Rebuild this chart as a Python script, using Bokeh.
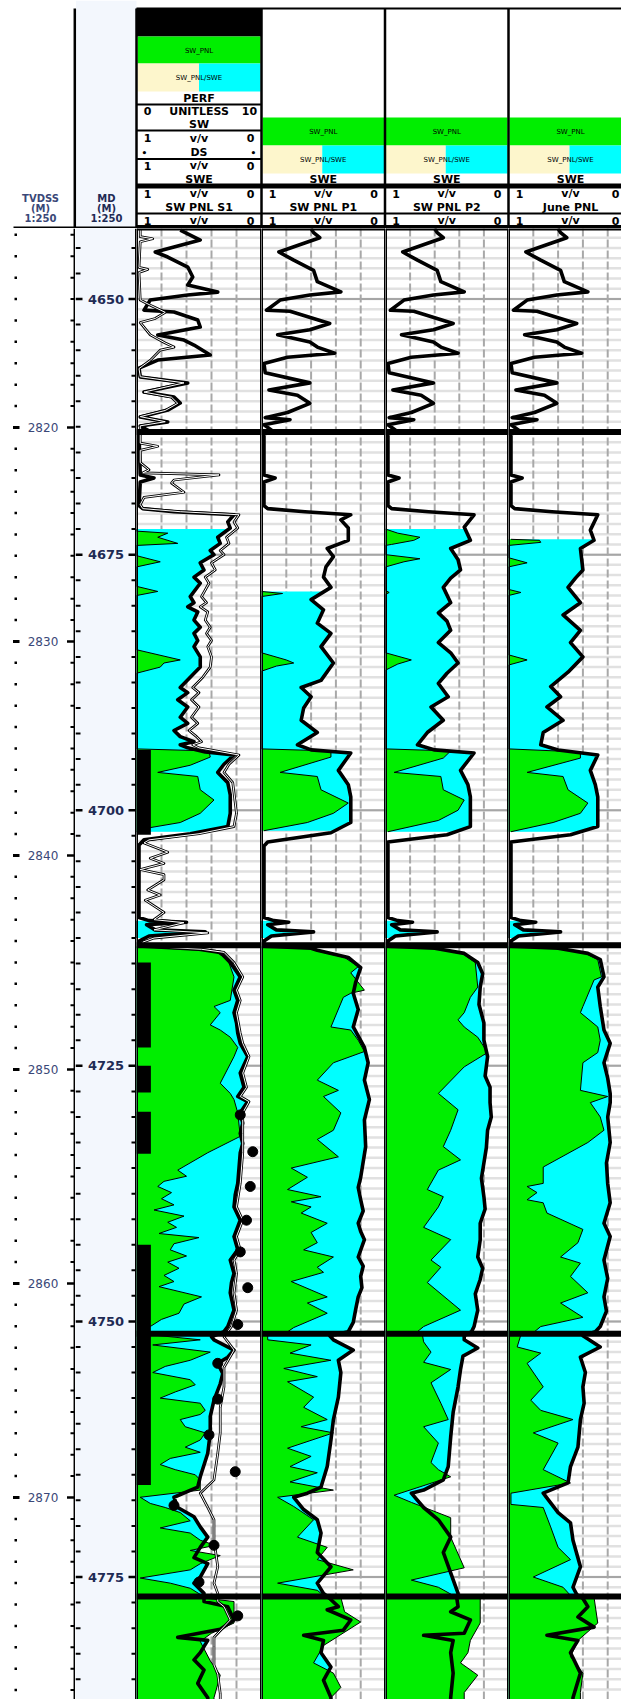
import numpy as np
from bokeh.plotting import figure
from bokeh.layouts import column, row
from bokeh.models import Range1d
from bokeh.embed import file_html
from bokeh.resources import INLINE
from bokeh.core.properties import value

# ------------------------------------------------------------------ data
MD_TOP, MD_BOT = 4643.1, 4786.98
zone_tops = [4663.0, 4713.2, 4751.2, 4776.9]
md_labels = [4650, 4675, 4700, 4725, 4750, 4775]
tvd_ref_md = [4662.56, 4767.22]
tvd_ref = [2820, 2870]

track_names = ["SW PNL S1", "SW PNL P1", "SW PNL P2", "June PNL"]

perf_top = [4694.1, 4714.9, 4725.0, 4729.5, 4742.5]
perf_base = [4702.4, 4723.2, 4727.6, 4733.6, 4766.0]
perf_val = 1.15

ds_md = [4729.8, 4733.4, 4736.8, 4740.1, 4743.2, 4746.7, 4750.3, 4754.1, 4757.6,
         4761.1, 4764.7, 4768.0, 4771.9, 4775.5, 4778.8]
ds_v = [0.17, 0.07, 0.09, 0.12, 0.17, 0.11, 0.19, 0.35, 0.35, 0.42, 0.21, 0.70,
        0.38, 0.50, 0.19]

# SW PNL S1 (track 1, thick)
t1_p = [
    (4643.25, 0.65), (4644.23, 0.49), (4645.40, 0.85), (4645.89, 0.75), (4646.87, 0.59),
    (4647.85, 0.55), (4648.63, 0.59), (4649.32, 0.35), (4649.61, 0.59), (4650.10, 0.89),
    (4651.08, 0.94), (4651.27, 0.70), (4652.05, 0.51), (4652.74, 0.49), (4653.52, 0.83),
    (4654.01, 0.62), (4654.50, 0.54), (4655.48, 0.41), (4655.97, 0.83), (4656.75, 0.98),
    (4657.63, 0.97), (4658.22, 0.59), (4659.10, 0.94), (4659.58, 0.70), (4660.17, 0.65),
    (4660.86, 0.75), (4661.54, 0.97), (4662.03, 0.75), (4662.42, 0.97), (4662.9, 0.90),
    (4663.2, 0.98), (4667.2, 0.97), (4667.5, 0.86), (4667.9, 0.97), (4670.2, 0.98),
    (4670.5, 0.95), (4670.8, 0.70), (4671.1, 0.22), (4671.8, 0.27), (4672.4, 0.25),
    (4673.3, 0.35), (4673.9, 0.33), (4674.6, 0.41), (4675.0, 0.38), (4675.8, 0.49),
    (4676.5, 0.46), (4677.2, 0.54), (4677.8, 0.49), (4679.1, 0.57), (4679.7, 0.54),
    (4680.1, 0.59), (4680.6, 0.51), (4681.4, 0.54), (4682.1, 0.49), (4682.7, 0.54),
    (4683.4, 0.51), (4684.0, 0.54), (4685.0, 0.49), (4686.0, 0.49), (4687.0, 0.57),
    (4688.0, 0.65), (4688.5, 0.59), (4689.2, 0.67), (4689.9, 0.59), (4690.9, 0.65),
    (4691.5, 0.59), (4692.2, 0.70), (4692.8, 0.65), (4693.3, 0.54), (4693.6, 0.65),
    (4693.9, 0.59), (4694.3, 0.45), (4694.6, 0.22), (4695.5, 0.30), (4696.3, 0.35),
    (4697.3, 0.27), (4698.5, 0.25), (4700.3, 0.25), (4701.6, 0.27), (4702.3, 0.57),
    (4702.9, 0.94), (4703.4, 0.98), (4710.5, 0.98), (4710.8, 0.90), (4710.95, 0.60),
    (4711.2, 0.92), (4711.7, 0.85), (4711.9, 0.45), (4712.3, 0.90), (4712.8, 0.98),
    (4713.3, 0.95), (4713.6, 0.50), (4713.9, 0.33), (4714.9, 0.25), (4716.3, 0.17),
    (4717.6, 0.22), (4718.6, 0.19), (4719.8, 0.22), (4720.8, 0.20), (4721.8, 0.19),
    (4722.8, 0.17), (4724.1, 0.11), (4725.7, 0.17), (4727.1, 0.14), (4728.0, 0.19),
    (4728.5, 0.11), (4729.6, 0.17), (4730.6, 0.15), (4731.6, 0.17), (4732.6, 0.15),
    (4733.5, 0.17), (4735.0, 0.18), (4736.5, 0.19), (4737.6, 0.21), (4738.8, 0.22),
    (4740.1, 0.17), (4741.7, 0.22), (4743.0, 0.19), (4744.0, 0.25), (4745.3, 0.22),
    (4746.2, 0.24), (4747.2, 0.25), (4748.9, 0.22), (4750.5, 0.27), (4751.0, 0.30),
    (4751.5, 0.40), (4751.8, 0.38), (4752.8, 0.22), (4753.5, 0.27), (4754.1, 0.35),
    (4755.1, 0.31), (4756.1, 0.33), (4757.7, 0.38), (4759.3, 0.41), (4760.9, 0.41),
    (4762.9, 0.43), (4765.2, 0.49), (4766.2, 0.51), (4767.2, 0.70), (4768.2, 0.67),
    (4769.1, 0.54), (4770.1, 0.49), (4771.1, 0.43), (4772.1, 0.49), (4773.1, 0.54),
    (4773.7, 0.43), (4775.0, 0.49), (4775.6, 0.54), (4776.6, 0.46), (4777.4, 0.46),
    (4777.9, 0.27), (4779.2, 0.22), (4780.1, 0.33), (4780.9, 0.67), (4781.2, 0.43),
    (4782.4, 0.49), (4783.1, 0.54), (4784.1, 0.46), (4785.4, 0.51), (4786.8, 0.43),
    (4787.0, 0.43),
]

# SW (track 1, thin hollow curve)
t1_sw = [
    (4643.2, 0.97), (4643.9, 0.97), (4644.1, 0.87), (4644.4, 0.97), (4646.9, 0.98),
    (4647.1, 0.91), (4647.4, 0.98), (4650.1, 0.97), (4650.6, 0.89), (4651.3, 0.77),
    (4651.9, 0.85), (4652.3, 0.97), (4653.5, 0.89), (4654.3, 0.77), (4654.7, 0.70),
    (4655.0, 0.81), (4656.0, 0.89), (4656.8, 0.98), (4657.6, 0.97), (4658.2, 0.62),
    (4659.1, 0.94), (4659.6, 0.72), (4660.2, 0.67), (4660.9, 0.77), (4661.5, 0.97),
    (4662.0, 0.77), (4662.4, 0.97), (4662.9, 0.97), (4664.1, 0.97), (4664.4, 0.83),
    (4664.8, 0.97), (4666.0, 0.97), (4666.7, 0.90), (4667.0, 0.95), (4667.2, 0.34),
    (4667.7, 0.70), (4668.0, 0.72), (4668.9, 0.62), (4669.4, 0.94), (4670.1, 0.97),
    (4670.5, 0.95), (4670.8, 0.65), (4671.1, 0.18), (4671.8, 0.22), (4672.4, 0.19),
    (4673.3, 0.28), (4673.9, 0.26), (4674.6, 0.33), (4675.0, 0.30), (4675.8, 0.40),
    (4676.5, 0.37), (4677.2, 0.45), (4677.8, 0.42), (4679.1, 0.48), (4679.7, 0.44),
    (4680.1, 0.49), (4680.6, 0.43), (4681.4, 0.45), (4682.1, 0.41), (4682.7, 0.44),
    (4683.4, 0.40), (4684.0, 0.43), (4685.0, 0.40), (4686.0, 0.41), (4687.0, 0.47),
    (4688.0, 0.55), (4688.5, 0.50), (4689.2, 0.56), (4689.9, 0.50), (4690.9, 0.56),
    (4691.5, 0.51), (4692.2, 0.58), (4692.8, 0.52), (4693.3, 0.48), (4693.6, 0.55),
    (4693.9, 0.50), (4694.6, 0.18), (4695.5, 0.26), (4696.3, 0.30), (4697.3, 0.23),
    (4700.3, 0.20), (4701.6, 0.22), (4702.3, 0.50), (4702.9, 0.90), (4703.2, 0.94),
    (4704.1, 0.75), (4704.7, 0.89), (4705.2, 0.78), (4705.8, 0.97), (4706.3, 0.78),
    (4706.8, 0.78), (4707.8, 0.91), (4708.3, 0.81), (4708.8, 0.93), (4710.0, 0.78),
    (4710.7, 0.86), (4711.0, 0.62), (4711.7, 0.86), (4712.0, 0.43), (4712.5, 0.86),
    (4712.9, 0.95), (4713.3, 0.93), (4713.6, 0.48), (4713.9, 0.30), (4714.9, 0.22),
    (4716.3, 0.15), (4717.6, 0.20), (4718.6, 0.17), (4719.8, 0.20), (4721.8, 0.17),
    (4722.8, 0.15), (4724.1, 0.10), (4725.7, 0.15), (4727.1, 0.12), (4728.0, 0.17),
    (4728.5, 0.10), (4729.6, 0.15), (4731.6, 0.15), (4733.5, 0.15), (4736.5, 0.17),
    (4738.8, 0.20), (4740.1, 0.15), (4741.7, 0.20), (4743.0, 0.17), (4744.0, 0.22),
    (4745.3, 0.20), (4747.2, 0.22), (4748.9, 0.20), (4750.5, 0.24), (4751.0, 0.27),
    (4751.5, 0.30), (4752.8, 0.22), (4754.5, 0.30), (4756.4, 0.30), (4758.4, 0.33),
    (4760.9, 0.33), (4762.9, 0.35), (4765.5, 0.38), (4766.8, 0.49), (4768.2, 0.43),
    (4769.4, 0.38), (4771.4, 0.38), (4774.0, 0.35), (4775.6, 0.38), (4776.6, 0.35),
    (4777.4, 0.35), (4777.9, 0.30), (4779.2, 0.25), (4780.9, 0.38), (4781.8, 0.38),
    (4783.6, 0.38), (4784.5, 0.35), (4786.4, 0.33), (4787.0, 0.33),
]

# SWE (track 1), None separates intervals
t1_swe = [
    (4672.5, 1.0), (4672.7, 1.0), (4672.9, 0.75), (4673.3, 0.83), (4673.9, 0.67),
    (4674.1, 1.0), (4675.1, 1.0), (4675.7, 0.81), (4676.2, 1.0), (4678.1, 1.0),
    (4678.6, 0.83), (4679.0, 1.0), (4684.3, 1.0), (4685.3, 0.65), (4685.6, 0.78),
    (4686.0, 0.81), (4686.6, 1.0), (4694.0, 1.0), (4694.2, 0.42), (4694.8, 0.41),
    (4695.6, 0.57), (4696.3, 0.83), (4696.7, 0.51), (4698.0, 0.49), (4699.0, 0.38),
    (4700.3, 0.49), (4701.2, 0.65), (4701.7, 0.89), (4702.1, 1.0),
    None,
    (4710.8, 1.0), (4712.5, 1.0),
    None,
    (4713.3, 0.98), (4713.5, 0.60), (4713.9, 0.36), (4714.6, 0.27), (4716.3, 0.22),
    (4718.6, 0.25), (4719.2, 0.38), (4719.8, 0.33), (4721.0, 0.41), (4721.5, 0.33),
    (4722.2, 0.25), (4723.2, 0.19), (4724.1, 0.22), (4726.7, 0.33), (4727.7, 0.25),
    (4728.3, 0.22), (4729.6, 0.19), (4731.9, 0.17), (4733.5, 0.43), (4735.2, 0.67),
    (4735.8, 0.60), (4736.3, 0.78), (4736.8, 0.83), (4737.4, 0.72), (4738.0, 0.80),
    (4738.6, 0.70), (4739.1, 0.86), (4739.7, 0.62), (4740.3, 0.75), (4740.8, 0.68),
    (4741.4, 0.82), (4741.8, 0.50), (4742.4, 0.70), (4743.0, 0.73), (4743.6, 0.60),
    (4744.2, 0.75), (4744.8, 0.66), (4745.5, 0.78), (4746.1, 0.70), (4746.6, 0.82),
    (4747.6, 0.48), (4748.3, 0.62), (4749.2, 0.66), (4749.8, 0.80), (4750.5, 0.89),
    (4751.1, 0.96), (4751.3, 0.89), (4751.8, 0.49), (4752.3, 0.87), (4753.0, 0.41),
    (4753.8, 0.57), (4754.4, 0.77), (4755.0, 0.87), (4755.7, 0.57), (4756.2, 0.53),
    (4756.9, 0.69), (4757.5, 0.81), (4758.0, 0.49), (4758.7, 0.45), (4759.1, 0.49),
    (4759.6, 0.65), (4760.3, 0.61), (4760.9, 0.45), (4761.6, 0.49), (4762.3, 0.61),
    (4762.8, 0.49), (4763.4, 0.73), (4764.0, 0.81), (4764.5, 0.69), (4765.0, 0.53),
    (4765.5, 0.49), (4766.5, 0.49), (4767.2, 0.97), (4767.8, 0.89), (4768.2, 0.77),
    (4768.7, 0.65), (4769.5, 0.57), (4770.2, 0.81), (4770.7, 0.57), (4771.4, 0.49),
    (4771.9, 0.37), (4772.4, 0.57), (4772.9, 0.33), (4773.7, 0.49), (4774.3, 0.57),
    (4775.1, 0.97), (4775.6, 0.73), (4776.1, 0.57), (4776.7, 0.49), (4777.0, 0.50),
    (4777.4, 0.22), (4779.5, 0.22), (4780.5, 0.40), (4781.3, 0.49), (4783.2, 0.41),
    (4784.6, 0.33), (4786.8, 0.38), (4787.0, 0.38),
]

# upper zone of the PNL runs (tracks 2-4 read alike)
z1_p_234 = [
    (4643.1, 0.60), (4643.5, 0.58), (4644.0, 0.53), (4645.4, 0.86), (4646.2, 0.74),
    (4647.2, 0.58), (4648.3, 0.55), (4649.3, 0.36), (4649.6, 0.61), (4650.1, 0.85),
    (4651.1, 0.96), (4651.2, 0.77), (4652.4, 0.45), (4653.0, 0.61), (4653.5, 0.87),
    (4654.2, 0.61), (4654.7, 0.55), (4655.3, 0.41), (4655.7, 0.79), (4656.3, 0.98),
    (4657.2, 0.97), (4658.2, 0.61), (4658.9, 0.94), (4659.4, 0.71), (4660.2, 0.61),
    (4661.1, 0.79), (4661.6, 0.97), (4661.8, 0.77), (4662.3, 0.98), (4662.9, 0.91),
]

t2_p = z1_p_234 + [
    (4663.2, 0.98), (4667.2, 0.98), (4667.5, 0.89), (4667.9, 0.98), (4670.2, 0.98),
    (4670.5, 0.95), (4670.8, 0.65), (4671.1, 0.28), (4671.6, 0.36), (4672.4, 0.30),
    (4673.6, 0.30), (4674.4, 0.47), (4675.2, 0.42), (4676.2, 0.48), (4677.2, 0.50),
    (4678.2, 0.44), (4679.4, 0.60), (4680.4, 0.50), (4681.7, 0.55), (4682.7, 0.44),
    (4684.0, 0.52), (4685.6, 0.42), (4687.3, 0.52), (4688.0, 0.68), (4688.9, 0.60),
    (4690.0, 0.66), (4691.2, 0.68), (4692.4, 0.55), (4693.6, 0.71), (4694.1, 0.60),
    (4694.4, 0.28), (4696.1, 0.38), (4697.5, 0.30), (4698.7, 0.28), (4701.2, 0.28),
    (4702.2, 0.44), (4703.1, 0.95), (4703.5, 0.98), (4710.5, 0.98), (4710.8, 0.90),
    (4710.95, 0.78), (4711.2, 0.95), (4711.7, 0.88), (4711.9, 0.58), (4712.3, 0.92),
    (4712.8, 0.98), (4713.3, 0.98), (4713.5, 0.60), (4713.7, 0.55), (4714.4, 0.30),
    (4715.4, 0.20), (4716.8, 0.24), (4717.9, 0.26), (4719.5, 0.22), (4721.2, 0.26),
    (4723.2, 0.17), (4724.7, 0.14), (4726.4, 0.17), (4728.3, 0.13), (4730.3, 0.17),
    (4732.9, 0.16), (4735.9, 0.20), (4736.9, 0.22), (4738.1, 0.20), (4739.2, 0.18),
    (4740.4, 0.22), (4741.2, 0.20), (4742.0, 0.17), (4743.7, 0.22), (4744.6, 0.18),
    (4745.6, 0.20), (4746.7, 0.19), (4747.6, 0.22), (4748.8, 0.24), (4750.1, 0.26),
    (4751.0, 0.30), (4751.4, 0.45), (4751.8, 0.42), (4752.8, 0.26), (4753.8, 0.38),
    (4755.0, 0.36), (4757.4, 0.38), (4759.6, 0.42), (4761.6, 0.44), (4764.2, 0.47),
    (4766.2, 0.52), (4766.8, 0.63), (4767.2, 0.74), (4768.4, 0.66), (4769.4, 0.55),
    (4770.7, 0.52), (4772.6, 0.55), (4774.0, 0.44), (4775.6, 0.55), (4776.6, 0.50),
    (4777.1, 0.45), (4777.9, 0.38), (4778.2, 0.47), (4779.2, 0.28), (4780.2, 0.34),
    (4780.7, 0.66), (4781.2, 0.50), (4782.4, 0.52), (4783.8, 0.44), (4785.1, 0.50),
    (4786.8, 0.44), (4787.0, 0.44),
]

t2_swe = [
    (4678.6, 1.0), (4678.8, 0.83), (4679.1, 1.0), (4684.6, 1.0), (4685.3, 0.80),
    (4685.6, 0.74), (4685.9, 0.88), (4686.4, 1.0), (4694.0, 1.0), (4694.2, 0.44),
    (4694.8, 0.44), (4696.3, 0.85), (4696.7, 0.55), (4698.0, 0.52), (4699.3, 0.30),
    (4700.3, 0.42), (4701.2, 0.63), (4702.0, 0.98),
    None,
    (4710.8, 1.0), (4712.5, 1.0),
    None,
    (4713.3, 0.98), (4713.5, 0.62), (4713.7, 0.57), (4714.4, 0.33), (4715.3, 0.22),
    (4715.9, 0.28), (4717.6, 0.17), (4717.9, 0.28), (4718.3, 0.34), (4721.2, 0.44),
    (4721.5, 0.28), (4722.5, 0.22), (4723.6, 0.17), (4724.7, 0.42), (4726.4, 0.55),
    (4727.4, 0.38), (4728.0, 0.50), (4729.6, 0.36), (4731.3, 0.42), (4732.2, 0.55),
    (4733.9, 0.38), (4735.0, 0.76), (4735.9, 0.63), (4737.1, 0.79), (4737.8, 0.52),
    (4738.3, 0.76), (4738.8, 0.60), (4739.4, 0.68), (4740.4, 0.47), (4741.3, 0.60),
    (4742.3, 0.55), (4743.0, 0.66), (4743.7, 0.42), (4744.7, 0.55), (4745.2, 0.50),
    (4746.1, 0.76), (4747.6, 0.47), (4748.2, 0.63), (4749.2, 0.47), (4750.6, 0.74),
    (4751.1, 0.80), (4751.3, 0.95), (4751.8, 0.95), (4752.3, 0.60), (4753.1, 0.77),
    (4753.8, 0.44), (4754.6, 0.82), (4755.4, 0.55), (4755.9, 0.79), (4757.4, 0.58),
    (4758.4, 0.66), (4759.6, 0.47), (4760.3, 0.68), (4760.9, 0.42), (4762.4, 0.79),
    (4763.2, 0.60), (4764.2, 0.77), (4764.8, 0.55), (4765.7, 0.77), (4766.5, 0.42),
    (4767.2, 0.87), (4768.1, 0.74), (4769.4, 0.58), (4771.1, 0.71), (4772.1, 0.47),
    (4773.3, 0.55), (4774.3, 0.26), (4775.6, 0.87), (4776.3, 0.55), (4776.8, 0.50),
    (4777.0, 0.36), (4778.4, 0.33), (4779.4, 0.20), (4781.7, 0.50), (4783.4, 0.58),
    (4784.4, 0.42), (4785.8, 0.36), (4786.8, 0.44), (4787.0, 0.44),
]

t3_p = z1_p_234 + [
    (4663.2, 0.98), (4667.2, 0.98), (4667.5, 0.89), (4667.9, 0.98), (4670.2, 0.98),
    (4670.5, 0.95), (4670.8, 0.65), (4671.1, 0.28), (4672.3, 0.36), (4673.6, 0.31),
    (4674.4, 0.47), (4675.5, 0.41), (4676.5, 0.39), (4677.3, 0.47), (4678.2, 0.53),
    (4679.7, 0.47), (4680.7, 0.57), (4681.5, 0.50), (4682.4, 0.47), (4683.6, 0.57),
    (4684.6, 0.47), (4685.6, 0.41), (4686.6, 0.50), (4687.6, 0.57), (4688.9, 0.49),
    (4689.9, 0.63), (4691.2, 0.53), (4692.4, 0.66), (4693.6, 0.74), (4694.1, 0.60),
    (4694.4, 0.28), (4696.1, 0.39), (4697.5, 0.33), (4698.7, 0.31), (4701.6, 0.31),
    (4702.4, 0.50), (4703.1, 0.98), (4710.5, 0.98), (4710.8, 0.90), (4710.95, 0.78),
    (4711.2, 0.95), (4711.7, 0.88), (4711.9, 0.58), (4712.3, 0.92), (4712.8, 0.98),
    (4713.3, 0.98), (4713.5, 0.60), (4714.0, 0.36), (4714.9, 0.25), (4716.0, 0.21),
    (4717.3, 0.23), (4719.0, 0.24), (4720.8, 0.20), (4722.5, 0.20), (4724.1, 0.17),
    (4726.0, 0.19), (4727.1, 0.15), (4728.6, 0.15), (4730.0, 0.14), (4731.3, 0.17),
    (4733.0, 0.18), (4734.5, 0.20), (4736.0, 0.22), (4737.8, 0.20), (4739.0, 0.19),
    (4740.4, 0.23), (4742.0, 0.23), (4743.7, 0.25), (4744.8, 0.21), (4745.9, 0.23),
    (4747.3, 0.27), (4748.9, 0.25), (4750.5, 0.28), (4751.0, 0.30), (4751.4, 0.36),
    (4751.8, 0.36), (4752.6, 0.25), (4753.4, 0.37), (4754.7, 0.39), (4756.4, 0.41),
    (4758.9, 0.45), (4761.3, 0.47), (4764.2, 0.49), (4765.5, 0.53), (4766.5, 0.69),
    (4766.8, 0.79), (4768.2, 0.69), (4769.4, 0.57), (4771.1, 0.47), (4772.6, 0.53),
    (4774.6, 0.47), (4776.6, 0.41), (4777.1, 0.42), (4777.9, 0.41), (4778.4, 0.47),
    (4779.2, 0.31), (4780.5, 0.36), (4780.7, 0.69), (4781.2, 0.45), (4782.4, 0.47),
    (4784.4, 0.45), (4786.8, 0.47), (4787.0, 0.47),
]

t3_swe = [
    (4672.5, 1.0), (4672.9, 0.90), (4673.3, 0.72), (4673.6, 0.77), (4674.0, 0.95),
    (4674.1, 1.0), (4675.0, 1.0), (4675.4, 0.72), (4675.7, 0.85), (4676.2, 1.0),
    (4678.5, 1.0), (4678.7, 0.97), (4678.9, 1.0), (4684.6, 1.0), (4685.3, 0.79),
    (4685.7, 0.90), (4686.3, 1.0), (4694.0, 1.0), (4694.2, 0.47), (4694.9, 0.53),
    (4696.3, 0.93), (4696.7, 0.55), (4698.0, 0.53), (4699.0, 0.36), (4700.0, 0.41),
    (4701.0, 0.57), (4702.1, 0.98),
    None,
    (4710.8, 1.0), (4712.5, 1.0),
    None,
    (4713.3, 0.98), (4713.5, 0.62), (4714.0, 0.38), (4714.9, 0.27), (4717.3, 0.25),
    (4718.3, 0.31), (4719.8, 0.36), (4720.5, 0.41), (4721.2, 0.36), (4722.2, 0.25),
    (4723.7, 0.17), (4725.1, 0.36), (4727.7, 0.57), (4729.3, 0.41), (4731.3, 0.47),
    (4732.9, 0.53), (4734.2, 0.39), (4735.2, 0.57), (4737.1, 0.66), (4737.8, 0.53),
    (4738.8, 0.57), (4740.8, 0.69), (4742.0, 0.47), (4744.0, 0.63), (4744.7, 0.55),
    (4746.2, 0.66), (4748.9, 0.39), (4750.5, 0.69), (4751.1, 0.75), (4751.3, 0.70),
    (4752.0, 0.69), (4753.0, 0.63), (4754.0, 0.69), (4754.7, 0.47), (4756.0, 0.63),
    (4758.0, 0.55), (4759.6, 0.49), (4760.3, 0.69), (4761.9, 0.57), (4763.8, 0.63),
    (4764.5, 0.57), (4765.2, 0.47), (4767.0, 0.93), (4767.7, 0.79), (4769.2, 0.47),
    (4771.1, 0.47), (4774.1, 0.36), (4775.3, 0.79), (4776.0, 0.57), (4776.8, 0.45),
    (4777.0, 0.23), (4779.5, 0.23), (4781.2, 0.31), (4782.4, 0.33), (4783.4, 0.39),
    (4784.6, 0.25), (4786.3, 0.36), (4787.0, 0.36),
]

t4_p = z1_p_234 + [
    (4663.2, 0.98), (4667.2, 0.98), (4667.5, 0.89), (4667.9, 0.98), (4670.2, 0.98),
    (4670.5, 0.95), (4670.8, 0.65), (4671.1, 0.28), (4672.6, 0.34), (4673.6, 0.31),
    (4674.4, 0.42), (4676.5, 0.40), (4677.3, 0.46), (4678.2, 0.52), (4679.7, 0.42),
    (4680.9, 0.56), (4682.4, 0.42), (4683.6, 0.50), (4685.0, 0.40), (4686.5, 0.52),
    (4687.9, 0.66), (4688.9, 0.58), (4689.9, 0.69), (4691.2, 0.56), (4692.4, 0.72),
    (4693.6, 0.74), (4694.1, 0.60), (4694.6, 0.28), (4696.1, 0.34), (4697.5, 0.30),
    (4698.7, 0.28), (4701.6, 0.28), (4702.4, 0.50), (4703.1, 0.98), (4710.5, 0.98),
    (4710.8, 0.90), (4710.95, 0.78), (4711.2, 0.95), (4711.7, 0.88), (4711.9, 0.58),
    (4712.3, 0.92), (4712.8, 0.98), (4713.3, 0.98), (4713.5, 0.60), (4714.0, 0.36),
    (4714.6, 0.26), (4716.3, 0.23), (4717.3, 0.28), (4719.2, 0.26), (4721.5, 0.23),
    (4722.8, 0.18), (4724.7, 0.23), (4726.2, 0.20), (4727.7, 0.18), (4728.6, 0.18),
    (4730.0, 0.20), (4732.5, 0.18), (4734.5, 0.21), (4736.5, 0.20), (4738.4, 0.18),
    (4740.4, 0.23), (4741.7, 0.18), (4744.0, 0.23), (4745.8, 0.20), (4747.6, 0.23),
    (4749.0, 0.21), (4750.5, 0.26), (4751.0, 0.30), (4751.4, 0.40), (4752.5, 0.26),
    (4753.5, 0.42), (4755.0, 0.38), (4756.4, 0.40), (4758.0, 0.39), (4759.6, 0.42),
    (4762.3, 0.44), (4764.2, 0.50), (4765.8, 0.52), (4766.8, 0.72), (4768.7, 0.60),
    (4769.7, 0.50), (4771.4, 0.48), (4774.0, 0.42), (4776.0, 0.48), (4776.7, 0.45),
    (4777.1, 0.40), (4777.9, 0.36), (4778.9, 0.44), (4779.9, 0.31), (4780.7, 0.69),
    (4781.2, 0.44), (4782.4, 0.50), (4784.4, 0.42), (4786.8, 0.48), (4787.0, 0.48),
]

t4_swe = [
    (4673.5, 0.98), (4673.6, 0.75), (4673.8, 0.74), (4674.1, 1.0), (4675.3, 1.0),
    (4675.8, 0.85), (4676.2, 1.0), (4678.4, 1.0), (4678.7, 0.90), (4679.0, 1.0),
    (4684.8, 1.0), (4685.3, 0.85), (4685.8, 1.0), (4694.0, 1.0), (4694.3, 0.42),
    (4694.9, 0.42), (4696.3, 0.85), (4696.7, 0.56), (4698.0, 0.52), (4699.3, 0.36),
    (4700.3, 0.42), (4701.2, 0.64), (4702.1, 0.98),
    None,
    (4710.8, 1.0), (4712.5, 1.0),
    None,
    (4713.3, 0.98), (4713.5, 0.62), (4714.0, 0.38), (4714.6, 0.28), (4716.3, 0.25),
    (4716.6, 0.31), (4719.2, 0.40), (4719.8, 0.42), (4721.2, 0.28), (4722.5, 0.26),
    (4723.7, 0.28), (4724.7, 0.40), (4727.4, 0.42), (4728.0, 0.20), (4728.6, 0.34),
    (4730.0, 0.26), (4731.3, 0.23), (4732.5, 0.36), (4734.9, 0.72), (4736.5, 0.72),
    (4736.8, 0.85), (4737.4, 0.77), (4738.1, 0.85), (4738.4, 0.72), (4739.4, 0.69),
    (4741.0, 0.40), (4742.3, 0.44), (4743.7, 0.58), (4744.3, 0.42), (4745.6, 0.50),
    (4747.2, 0.36), (4748.2, 0.58), (4749.6, 0.40), (4750.5, 0.74), (4751.1, 0.80),
    (4751.3, 0.90), (4752.5, 0.93), (4753.1, 0.74), (4754.1, 0.85), (4756.4, 0.72),
    (4757.7, 0.82), (4758.7, 0.74), (4759.6, 0.48), (4760.9, 0.80), (4761.9, 0.60),
    (4764.5, 0.72), (4765.8, 0.50), (4766.8, 0.98), (4767.9, 0.98), (4768.2, 0.72),
    (4770.1, 0.66), (4772.1, 0.60), (4773.3, 0.50), (4775.0, 0.80), (4776.0, 0.56),
    (4776.8, 0.50), (4777.0, 0.31), (4779.5, 0.28), (4781.2, 0.44), (4782.8, 0.50),
    (4784.4, 0.40), (4786.3, 0.42), (4787.0, 0.42),
]

# ------------------------------------------------------------------ style
GREEN, CYAN, BEIGE = "#00ee00", "#00ffff", "#fdf6cc"
MD_BG = "#f3f7fd"
NAVY_T, NAVY_M = "#3a4878", "#1f2b55"
FONT = value("DejaVu Sans")
W = 621
H = 228
BH = 1699 - H
edges = [136, 261, 384.5, 508, 632]


def new_fig(w, h, xr, yr, bg="white"):
    p = figure(width=w, height=h, x_range=xr, y_range=yr, x_axis_type=None,
               y_axis_type=None, output_backend="svg", toolbar_location=None,
               min_border=0)
    p.outline_line_color = None
    p.background_fill_color = bg
    p.border_fill_color = bg
    return p


def txt(p, x, y, s, size, bold=True, color="black", align="center"):
    p.text(x=[x], y=[y], text=[s], text_font=FONT, text_font_size=f"{size}px",
           text_font_style="bold" if bold else "normal", text_color=color,
           text_align=align, text_baseline="middle")


def split(seq):
    segs, cur = [], []
    for item in seq:
        if item is None:
            if cur:
                segs.append(cur)
            cur = []
        else:
            cur.append(item)
    if cur:
        segs.append(cur)
    return segs


# ------------------------------------------------------------------ header
hdr = new_fig(W, H, Range1d(0, W), Range1d(H, 0))
hdr.quad(left=75.5, right=136, top=0, bottom=H, fill_color=MD_BG, line_color=None)
hdr.quad(left=136, right=261, top=8, bottom=36, fill_color="black", line_color=None)
hdr.quad(left=137, right=260, top=36, bottom=63, fill_color=GREEN, line_color=None)
hdr.quad(left=137, right=198.5, top=63, bottom=91, fill_color=BEIGE, line_color=None)
hdr.quad(left=198.5, right=260, top=63, bottom=91, fill_color=CYAN, line_color=None)
for i in range(1, 4):
    l, r = edges[i] + 1, edges[i + 1] - 1
    m = (edges[i] + edges[i + 1]) / 2 - 1
    hdr.quad(left=l, right=r, top=117, bottom=145, fill_color=GREEN, line_color=None)
    hdr.quad(left=l, right=m, top=145, bottom=173, fill_color=BEIGE, line_color=None)
    hdr.quad(left=m, right=r, top=145, bottom=173, fill_color=CYAN, line_color=None)

txt(hdr, 198.5, 50, "SW_PNL", 7, bold=False)
txt(hdr, 198.5, 77, "SW_PNL/SWE", 7, bold=False)
txt(hdr, 198.5, 97.5, "PERF", 11)
txt(hdr, 147, 110.5, "0", 11)
txt(hdr, 198.5, 110.5, "UNITLESS", 11)
txt(hdr, 249, 110.5, "10", 11)
txt(hdr, 198.5, 124, "SW", 11)
txt(hdr, 147, 137.5, "1", 11)
txt(hdr, 198.5, 137.5, "v/v", 11)
txt(hdr, 250, 137.5, "0", 11)
txt(hdr, 144, 152, "•", 9)
txt(hdr, 198.5, 152, "DS", 11)
txt(hdr, 253, 152, "•", 9)
txt(hdr, 147, 165, "1", 11)
txt(hdr, 198.5, 165, "v/v", 11)
txt(hdr, 250, 165, "0", 11)
txt(hdr, 198.5, 179, "SWE", 11)
for i in range(1, 4):
    xc = (edges[i] + edges[i + 1]) / 2
    txt(hdr, xc, 131, "SW_PNL", 7, bold=False)
    txt(hdr, xc, 159, "SW_PNL/SWE", 7, bold=False)
    txt(hdr, xc, 178.5, "SWE", 11)
for i in range(4):
    xl, xr = edges[i] + 11, min(edges[i + 1] - 11, W - 6)
    xc = (edges[i] + edges[i + 1]) / 2
    for yy in (193, 220):
        txt(hdr, xl, yy, "1", 11)
        txt(hdr, xc, yy, "v/v", 11)
        txt(hdr, xr, yy, "0", 11)
    txt(hdr, xc, 207, track_names[i], 11)

hdr.segment(x0=136, x1=W, y0=8, y1=8, line_color="black", line_width=2)
hdr.segment(x0=edges[:4], x1=edges[:4], y0=8, y1=H, line_color="black", line_width=2.5)
hdr.segment(x0=136, x1=261, y0=[104, 130, 158.5], y1=[104, 130, 158.5],
            line_color="black", line_width=2.2)
hdr.segment(x0=136, x1=W, y0=185.5, y1=185.5, line_color="black", line_width=5)
hdr.segment(x0=136, x1=W, y0=213, y1=213, line_color="black", line_width=2)
hdr.segment(x0=136, x1=W, y0=226.5, y1=226.5, line_color="black", line_width=4)
hdr.segment(x0=13, x1=136, y0=227, y1=227, line_color="black", line_width=2)
hdr.segment(x0=74.3, x1=74.3, y0=8, y1=H, line_color="black", line_width=2.5)
txt(hdr, 40, 198, "TVDSS", 10, color=NAVY_T)
txt(hdr, 40, 207.5, "(M)", 10, color=NAVY_T)
txt(hdr, 40, 217.5, "1:250", 10, color=NAVY_T)
txt(hdr, 106, 198, "MD", 10, color=NAVY_M)
txt(hdr, 106, 207.5, "(M)", 10, color=NAVY_M)
txt(hdr, 106, 217.5, "1:250", 10, color=NAVY_M)

# ------------------------------------------------------------------ body
yr = Range1d(MD_BOT, MD_TOP)

# TVDSS column
tv = new_fig(75, BH, Range1d(0, 75), yr)
k = (tvd_ref[1] - tvd_ref[0]) / (tvd_ref_md[1] - tvd_ref_md[0])


def md_of_tvd(t):
    return tvd_ref_md[0] + (np.asarray(t, dtype=float) - tvd_ref[0]) / k


t_lo = int(np.ceil(tvd_ref[0] + (MD_TOP - tvd_ref_md[0]) * k))
t_hi = int(np.floor(tvd_ref[0] + (MD_BOT - tvd_ref_md[0]) * k))
tt = np.arange(t_lo, t_hi + 1)
t_min = tt[tt % 10 != 0]
t_maj = tt[tt % 10 == 0]
tv.segment(x0=14, x1=16.5, y0=md_of_tvd(t_min), y1=md_of_tvd(t_min), line_color="black", line_width=2.5)
tv.segment(x0=70, x1=74, y0=md_of_tvd(t_min), y1=md_of_tvd(t_min), line_color="black", line_width=2)
tv.segment(x0=12.5, x1=19, y0=md_of_tvd(t_maj), y1=md_of_tvd(t_maj), line_color="black", line_width=3)
tv.segment(x0=66.5, x1=74, y0=md_of_tvd(t_maj), y1=md_of_tvd(t_maj), line_color="black", line_width=2.5)
tv.text(x=[42.5] * len(t_maj), y=md_of_tvd(t_maj), text=[str(t) for t in t_maj],
        text_font=FONT, text_font_size="12px", text_color=NAVY_T,
        text_align="center", text_baseline="middle")
tv.segment(x0=74.3, x1=74.3, y0=MD_TOP, y1=MD_BOT, line_color="black", line_width=2.5)

# MD column
mc = new_fig(61, BH, Range1d(75, 136), yr, bg=MD_BG)
mt = np.arange(4645, 4787, 2.5)
m_min = mt[mt % 25 != 0]
m_maj = np.array(md_labels, dtype=float)
mc.segment(x0=75, x1=80, y0=m_min, y1=m_min, line_color="black", line_width=2)
mc.segment(x0=131, x1=136, y0=m_min, y1=m_min, line_color="black", line_width=2)
mc.segment(x0=75, x1=82, y0=m_maj, y1=m_maj, line_color="black", line_width=2.5)
mc.segment(x0=128, x1=136, y0=m_maj, y1=m_maj, line_color="black", line_width=2.5)
mc.text(x=[105.5] * len(m_maj), y=m_maj, text=[str(m) for m in md_labels],
        text_font=FONT, text_font_size="13px", text_font_style="bold",
        text_color=NAVY_M, text_align="center", text_baseline="middle")
mc.segment(x0=136, x1=136, y0=MD_TOP, y1=MD_BOT, line_color="black", line_width=3)


def track(width, x_end, P, SWE, first=False):
    p = new_fig(width, BH, Range1d(1, x_end), yr)
    grid = np.arange(4644, 4787)
    p.segment(x0=1, x1=0, y0=grid, y1=grid, line_color="#e1e1e1", line_width=2.5)
    p.segment(x0=1, x1=0, y0=md_labels, y1=md_labels, line_color="#a6a6a6", line_width=2)
    for v in (0.8, 0.6, 0.4, 0.2):
        p.segment(x0=v, x1=v, y0=MD_TOP, y1=MD_BOT, line_color="#a8a8a8",
                  line_width=2, line_dash="8 3")
    pm = np.array([d for d, _ in P])
    pv = np.array([x for _, x in P])
    for seg in split(SWE):
        sd = np.array([d for d, _ in seg])
        sv = np.array([x for _, x in seg])
        d0, d1 = sd[0], sd[-1]
        yy = np.unique(np.concatenate([sd, pm[(pm > d0) & (pm < d1)]]))
        xx = np.interp(yy, pm, pv)
        p.harea(x1=np.ones_like(yy), x2=xx, y=yy, fill_color=CYAN)
        p.harea(x1=np.ones_like(sd), x2=sv, y=sd, fill_color=GREEN)
        p.line(sv, sd, line_color="black", line_width=1)
    if first:
        p.quad(left=1, right=1 - perf_val / 10, top=perf_top, bottom=perf_base,
               fill_color="black", line_color=None)
    p.line(pv, pm, line_color="black", line_width=3.6, line_join="round")
    if first:
        sm = [d for d, _ in t1_sw]
        sw = [x for _, x in t1_sw]
        p.line(sw, sm, line_color="black", line_width=2.7, line_join="round")
        p.line(sw, sm, line_color="white", line_width=1.0, line_join="round")
        p.scatter(x=ds_v, y=ds_md, size=10, marker="circle", fill_color="black",
                  line_color="black")
    p.segment(x0=1, x1=0, y0=zone_tops, y1=zone_tops, line_color="black", line_width=6)
    p.segment(x0=1, x1=0, y0=MD_TOP, y1=MD_TOP, line_color="black", line_width=4)
    p.segment(x0=[1, 0], x1=[1, 0], y0=MD_TOP, y1=MD_BOT, line_color="black", line_width=3)
    return p


t1 = track(125, 0, t1_p, t1_swe, first=True)
t2 = track(124, 0, t2_p, t2_swe)
t3 = track(123, 0, t3_p, t3_swe)
t4 = track(113, 1 - 113 / 124, t4_p, t4_swe)

layout = column(hdr, row(tv, mc, t1, t2, t3, t4, spacing=0), spacing=0)
open("out.html", "w").write(file_html(layout, INLINE))
